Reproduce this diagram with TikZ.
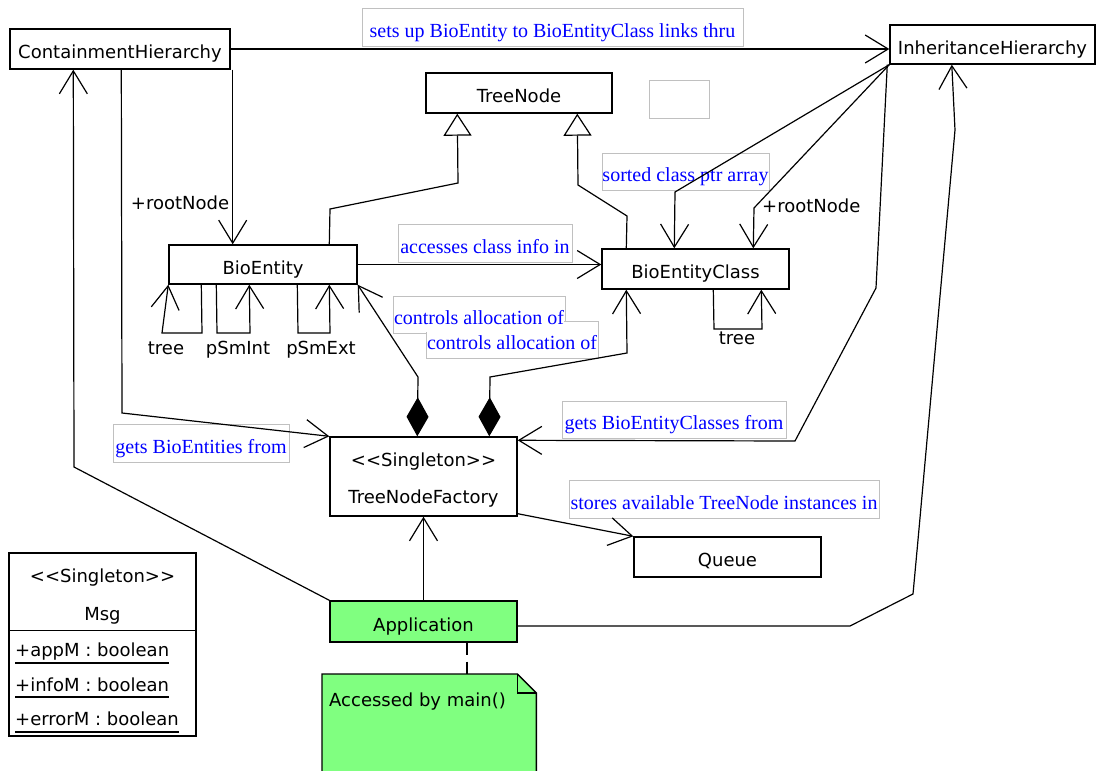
\documentclass[tikz,border=0pt]{standalone}
\usepackage{fontspec}
\setmainfont{DejaVu Sans}
\newfontfamily\lblfont{Liberation Serif}
\usetikzlibrary{arrows.meta}
\definecolor{notegreen}{HTML}{80FF80}
\definecolor{lblgray}{HTML}{C0C0C0}
\definecolor{lblblue}{HTML}{0000FF}
\newcommand\stereo[1]{<\kern0pt<#1>\kern0pt>}
\begin{document}
\begin{tikzpicture}[x=1pt,y=-1pt,
 umlbox/.style={draw, line width=1.4pt, inner sep=0pt, text height=19pt, text depth=0pt, font=\fontsize{18}{20}\selectfont},
 lbl/.style={draw=lblgray, line width=0.8pt, fill=white, text=lblblue, inner sep=0pt, text height=20pt, text depth=0pt, font=\lblfont\fontsize{20}{22}\selectfont},
 lbltext/.style={text=lblblue, inner sep=0pt, text height=20pt, text depth=0pt, font=\lblfont\fontsize{20}{22}\selectfont},
 conn/.style={line width=1.2pt},
 openarr/.style={conn, -{Straight Barb[length=23pt,width=28pt]}},
 inherit/.style={conn, -{Triangle[length=22pt,width=28pt,fill=white]}},
 compose/.style={conn, {Diamond[length=39pt,width=22pt]}-{Straight Barb[length=23pt,width=28pt]}},
 role/.style={font=\fontsize{18}{20}\selectfont, inner sep=0pt, anchor=base},
]
\path[use as bounding box, fill=white] (0,0) rectangle (1096,771);

% labels (behind connectors)
\node[lbl, minimum width=381pt, minimum height=38pt] (l1) at (552.5,27) {sets up BioEntity to BioEntityClass links thru};
\node[lbl, minimum width=176pt, minimum height=38pt] (l2) at (201,443) {gets BioEntities from};
\node[lbl, minimum width=174pt, minimum height=38pt] (l3) at (485,243) {accesses class info in};
\node[lbl, minimum width=167pt, minimum height=37pt] (l4) at (685.5,171.5) {sorted class ptr array};
% two overlapping labels: common outline, shared white interior
\node[lbl, minimum width=172pt, minimum height=37pt] (l5) at (479,314.5) {};
\node[lbl, minimum width=172pt, minimum height=37pt] (l6) at (512,339.5) {};
\fill[white] ([shift={(1.6,1.6)}]l5.north west) rectangle ([shift={(-1.6,-1.6)}]l5.south east);
\fill[white] ([shift={(1.6,1.6)}]l6.north west) rectangle ([shift={(-1.6,-1.6)}]l6.south east);
\node[lbltext] (l5t) at (l5) {controls allocation of};
\node[lbltext] (l6t) at (l6) {controls allocation of};
\node[lbl, minimum width=224pt, minimum height=37pt] (l7) at (674,419.5) {gets BioEntityClasses from};
\node[lbl, minimum width=310pt, minimum height=38pt] (l8) at (724,499) {stores available TreeNode instances in};

% classes
\node[umlbox, minimum width=220pt, minimum height=40pt] (ch) at (120,49) {ContainmentHierarchy};
\node[umlbox, minimum width=205pt, minimum height=39pt] (ih) at (992.5,44.5) {InheritanceHierarchy};
\node[umlbox, minimum width=186pt, minimum height=40pt] (tn) at (519,93) {TreeNode};
\node[draw=lblgray, line width=0.8pt, minimum width=60pt, minimum height=38pt, inner sep=0pt] (blank) at (679,99) {};
\node[umlbox, minimum width=188pt, minimum height=39pt] (be) at (263,264.5) {BioEntity};
\node[umlbox, minimum width=187pt, minimum height=40pt] (bec) at (695.5,269) {BioEntityClass};
\node[umlbox, minimum width=187pt, minimum height=79pt] (tnf) at (423.5,476.5) {};
\node[role] (tnfst) at (423.5,466) {\stereo{Singleton}};
\node[role] (tnfname) at (423.5,503) {TreeNodeFactory};
\node[umlbox, minimum width=187pt, minimum height=40pt] (q) at (727.5,557) {Queue};
\node[umlbox, fill=notegreen, minimum width=187pt, minimum height=41pt] (app) at (423.5,621.5) {Application};

% Msg
\node[draw, line width=1.4pt, minimum width=187pt, minimum height=183pt, inner sep=0pt] (msg) at (102.5,644.5) {};
\draw[line width=1.2pt] ([yshift=-78pt]msg.north west) -- ([yshift=-78pt]msg.north east);
\node[role] (msgst) at (102.5,582) {\stereo{Singleton}};
\node[role] (msgname) at (102.5,620) {Msg};
\node[role, anchor=base west] (a1) at (15,656) {+appM : boolean};
\draw[line width=1.2pt] ([yshift=-7pt]a1.base west) -- ([yshift=-7pt]a1.base east);
\node[role, anchor=base west] (a2) at (15,691) {+infoM : boolean};
\draw[line width=1.2pt] ([yshift=-6pt]a2.base west) -- ([yshift=-6pt]a2.base east);
\node[role, anchor=base west] (a3) at (15,725) {+errorM : boolean};
\draw[line width=1.2pt] ([yshift=-7pt]a3.base west) -- ([yshift=-7pt]a3.base east);

% note
\node[inner sep=0pt, minimum width=214pt, minimum height=100pt, anchor=north west] (note) at (322,674) {};
\fill[notegreen] (note.north west) -- ([xshift=-19pt]note.north east) -- ([yshift=-19pt]note.north east) -- (note.south east) -- (note.south west) -- cycle;
\draw[line width=1.4pt] (note.south west) -- (note.north west) -- ([xshift=-19pt]note.north east) -- ([yshift=-19pt]note.north east) -- (note.south east);
\draw[line width=1.4pt] ([xshift=-19pt]note.north east) |- ([yshift=-19pt]note.north east);
\node[role, anchor=base west] (notetext) at (329,706) {Accessed by main()};
\draw[conn, dash pattern=on 12pt off 7pt] ([xshift=43.5pt]app.south) -- ([xshift=43.5pt]app.south |- note.north);

% role names
\node[role] (r1) at (180,209) {+rootNode};
\node[role, anchor=base west] (r2) at (762,212) {+rootNode};
\node[role] (r3) at (166,354) {tree};
\node[role] (r4) at (238,354) {pSmInt};
\node[role] (r5) at (321,354) {pSmExt};
\node[role] (r6) at (737,344) {tree};

% connectors
\draw[openarr] (ch.east) -- (ch.east -| ih.west);
\draw[openarr] (app.north west) -- (74,467) -- ([xshift=64pt]ch.south west);
\draw[openarr] ([xshift=112pt]ch.south west) -- (122,413) -- (tnf.north west);
\draw[openarr] ([xshift=2pt]ch.south east) -- ([xshift=2pt]ch.south east |- be.north);
\draw[inherit] ([xshift=161pt]be.north west) -- (330,209) -- (458,183) -- ([xshift=32pt]tn.south west);
\draw[inherit] ([xshift=25pt]bec.north west) -- (627,216) -- (578,185) -- ([xshift=152pt]tn.south west);
\draw[openarr] (be.east) -- (be.east -| bec.west);
\draw[openarr] ([xshift=33pt]be.south west) -- (202,333) -- (162,333) -- (be.south west);
\draw[openarr] ([xshift=48pt]be.south west) -- (217,333) -- (250,333) -- ([xshift=81pt]be.south west);
\draw[openarr] ([xshift=129pt]be.south west) -- (298,333) -- (330,333) -- ([xshift=161pt]be.south west);
\draw[openarr] ([xshift=112pt]bec.south west) -- (714,329) -- (762,329) -- ([xshift=160pt]bec.south west);
\draw[openarr] (ih.south west) -- (675,192) -- ([xshift=73pt]bec.north west);
\draw[openarr] (ih.south west) -- (754,208) -- ([xshift=152pt]bec.north west);
\draw[openarr] ([xshift=-2pt]ih.south west) -- (876,288) -- (795,441) -- ([yshift=-4pt]tnf.north east);
\draw[openarr] ([yshift=-4.5pt]app.east) -- (850,626) -- (913,594) -- (918,540) -- (955,130) -- ([xshift=62.5pt]ih.south west);
\draw[openarr] ([yshift=3pt]tnf.south east) -- (q.north west);
\draw[openarr] (app.north) -- (tnf.south);
\draw[compose] ([xshift=88pt]tnf.north west) -- (418,377) -- (be.south east);
\draw[compose] ([xshift=160pt]tnf.north west) -- (490,377) -- (627,353) -- ([xshift=25pt]bec.south west);
\end{tikzpicture}
\end{document}
